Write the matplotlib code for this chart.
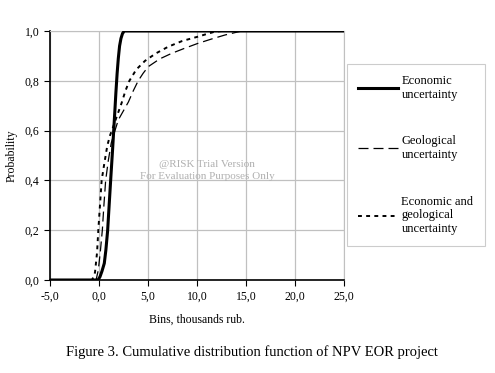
import matplotlib
matplotlib.use("Agg")
import matplotlib.pyplot as plt
from matplotlib.ticker import FuncFormatter

plt.rcParams['font.family'] = ['Liberation Serif', 'DejaVu Serif']

# Economic uncertainty
econ_x = [-5.0, -0.1, 0.1, 0.3, 0.54, 0.7, 0.88, 1.05, 1.22, 1.38, 1.5, 1.62, 1.72, 1.85, 1.97, 2.1, 2.24, 2.4, 2.58, 25.0]
econ_y = [0.0, 0.0, 0.013, 0.035, 0.067, 0.12, 0.198, 0.31, 0.42, 0.52, 0.60, 0.68, 0.75, 0.83, 0.89, 0.94, 0.97, 0.99, 1.0, 1.0]

# Geological uncertainty
geo_x = [-5.0, -0.3, -0.07, 0.15, 0.34, 0.5, 0.68, 0.95, 1.25, 1.63, 1.97, 2.5, 3.0, 3.5, 4.0, 4.5, 5.03, 6.2, 7.4, 8.7, 10.07, 11.5, 12.86, 14.56, 25.0]
geo_y = [0.0, 0.0, 0.04, 0.12, 0.20, 0.30, 0.40, 0.48, 0.55, 0.60, 0.643, 0.68, 0.715, 0.76, 0.80, 0.83, 0.857, 0.888, 0.91, 0.93, 0.95, 0.968, 0.984, 1.0, 1.0]

# Economic and geological uncertainty
comb_x = [-5.0, -0.7, -0.41, -0.2, -0.07, 0.1, 0.27, 0.55, 0.85, 1.12, 1.4, 1.8, 2.3, 2.7, 3.1, 3.8, 4.69, 5.8, 7.07, 8.5, 10.07, 11.0, 11.8, 12.5, 25.0]
comb_y = [0.0, 0.0, 0.03, 0.11, 0.20, 0.30, 0.40, 0.47, 0.54, 0.58, 0.61, 0.655, 0.71, 0.76, 0.80, 0.845, 0.88, 0.91, 0.937, 0.96, 0.977, 0.988, 0.997, 1.0, 1.0]

x_ticks = [-5, 0, 5, 10, 15, 20, 25]
y_ticks = [0.0, 0.2, 0.4, 0.6, 0.8, 1.0]

fig = plt.figure(figsize=(4.95, 3.73), dpi=100)
ax = fig.add_axes([50/495, 1 - 280/373, 294/495, 249/373])

ax.plot(econ_x, econ_y, color='black', lw=2.2, label='Economic\nuncertainty', zorder=5)
ax.plot(geo_x, geo_y, color='black', lw=0.9, dashes=(8, 4), label='Geological\nuncertainty', zorder=4)
ax.plot(comb_x, comb_y, color='black', lw=1.4, dashes=(2, 2.2), label='Economic and\ngeological\nuncertainty', zorder=4)

ax.set_xlim(-5, 25)
ax.set_ylim(0, 1)
ax.set_xticks(x_ticks)
ax.set_yticks(y_ticks)
fmt = FuncFormatter(lambda v, p: f"{v:.1f}".replace('.', ','))
ax.xaxis.set_major_formatter(fmt)
ax.yaxis.set_major_formatter(fmt)
ax.tick_params(labelsize=8.5, direction='out', length=4, width=0.8, colors='black')
ax.grid(True, color='#c0c0c0', lw=0.9)
ax.set_axisbelow(True)
for s in ['top', 'right']:
    ax.spines[s].set_color('#c0c0c0')
for s in ['left', 'bottom']:
    ax.spines[s].set_color('black')
    ax.spines[s].set_linewidth(1.2)

ax.set_xlabel('Bins, thousands rub.', fontsize=8.5, labelpad=8)
ax.set_ylabel('Probability', fontsize=8.5, labelpad=5)

ax.text(0.534, 0.44, '@RISK Trial Version\nFor Evaluation Purposes Only', transform=ax.transAxes,
        ha='center', va='center', fontsize=8, color='#b0b0b0', linespacing=1.4)

leg = fig.legend(loc='upper left', bbox_to_anchor=(347/495, 1 - 64/373), fontsize=9,
                 frameon=True, fancybox=False, edgecolor='#c0c0c0', handlelength=3.2,
                 handletextpad=0.25, labelspacing=2.75, borderpad=0.9, borderaxespad=0)
leg.get_frame().set_linewidth(0.8)

fig.text(0.5 * (63 + 440) / 495, 1 - 352/373, 'Figure 3. Cumulative distribution function of NPV EOR project',
         ha='center', va='center', fontsize=10.5)

fig.savefig('out.png', dpi=100)
